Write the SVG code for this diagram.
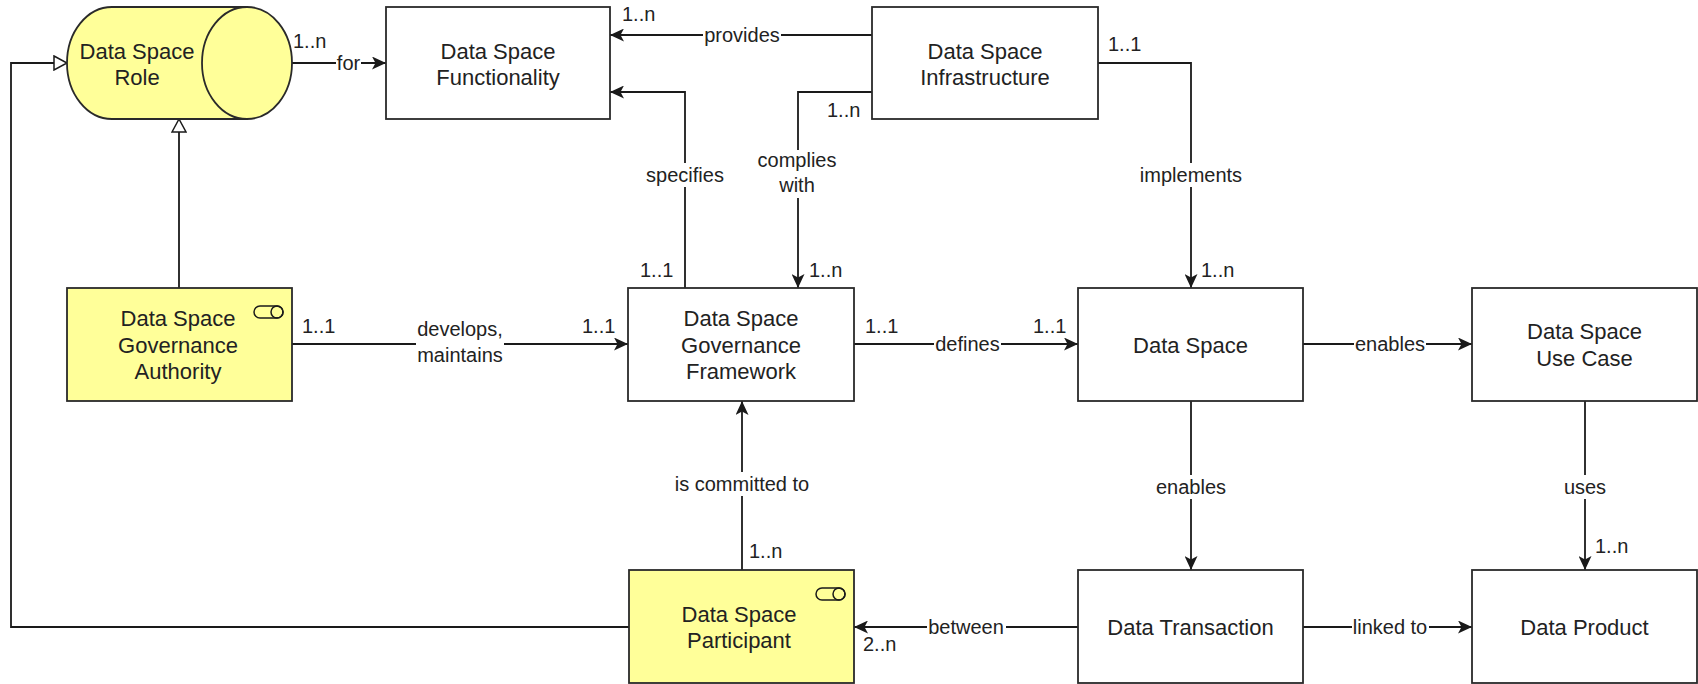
<svg xmlns="http://www.w3.org/2000/svg" width="1698" height="684" viewBox="0 0 1698 684">
<style>
.box{fill:#ffffff;stroke:#2a2a2a;stroke-width:1.8}
.yel{fill:#ffff99;stroke:#2a2a2a;stroke-width:1.8}
.icon{fill:none;stroke:#1a1a1a;stroke-width:1.5}
.nt{font-family:"Liberation Sans",Arial,sans-serif;font-size:22px;fill:#222;text-anchor:middle}
.lt{font-family:"Liberation Sans",Arial,sans-serif;font-size:20px;fill:#222;text-anchor:middle}
.mt{font-family:"Liberation Sans",Arial,sans-serif;font-size:20px;fill:#222}
.edge{fill:none;stroke:#1a1a1a;stroke-width:1.8}
.bg{fill:#ffffff}
</style>
<defs>
<marker id="arr" markerWidth="14" markerHeight="13" refX="14" refY="6.5" orient="auto" markerUnits="userSpaceOnUse">
<path d="M0,0 L14,6.5 L0,13 L3.5,6.5 Z" fill="#1a1a1a"/>
</marker>
<marker id="tri" markerWidth="16" markerHeight="16" refX="14" refY="8" orient="auto" markerUnits="userSpaceOnUse">
<path d="M1,1 L14,8 L1,15 Z" fill="#ffffff" stroke="#1a1a1a" stroke-width="1.5"/>
</marker>
</defs>
<rect width="1698" height="684" fill="#ffffff"/>

<g id="connectors">
<path class="edge" d="M292,63 H386" marker-end="url(#arr)"/>
<path class="edge" d="M872,35 H610" marker-end="url(#arr)"/>
<path class="edge" d="M685,288 V92 H610" marker-end="url(#arr)"/>
<path class="edge" d="M872,92 H798 V288" marker-end="url(#arr)"/>
<path class="edge" d="M1098,63 H1191 V288" marker-end="url(#arr)"/>
<path class="edge" d="M292,344 H628" marker-end="url(#arr)"/>
<path class="edge" d="M854,344 H1078" marker-end="url(#arr)"/>
<path class="edge" d="M1303,344 H1472" marker-end="url(#arr)"/>
<path class="edge" d="M1191,401 V570" marker-end="url(#arr)"/>
<path class="edge" d="M1585,401 V570" marker-end="url(#arr)"/>
<path class="edge" d="M1078,627 H854" marker-end="url(#arr)"/>
<path class="edge" d="M1303,627 H1472" marker-end="url(#arr)"/>
<path class="edge" d="M742,570 V401" marker-end="url(#arr)"/>
<path class="edge" d="M629,627 H11 V63 H67" marker-end="url(#tri)"/>
<path class="edge" d="M179,288 V119" marker-end="url(#tri)"/>

<rect class="bg" x="336" y="55" width="25" height="16"/>
<text class="lt" x="348.5" y="70">for</text>
<rect class="bg" x="703" y="27" width="78" height="16"/>
<text class="lt" x="742" y="42">provides</text>
<rect class="bg" x="644" y="163" width="82" height="24"/>
<text class="lt" x="685" y="182">specifies</text>
<rect class="bg" x="756" y="150" width="84" height="48"/>
<text class="lt" x="797" y="167">complies</text>
<text class="lt" x="797" y="192">with</text>
<rect class="bg" x="1139" y="163" width="104" height="24"/>
<text class="lt" x="1191" y="182">implements</text>
<rect class="bg" x="416" y="320" width="88" height="50"/>
<text class="lt" x="460" y="336">develops,</text>
<text class="lt" x="460" y="362">maintains</text>
<rect class="bg" x="934" y="336" width="67" height="16"/>
<text class="lt" x="967.5" y="351">defines</text>
<rect class="bg" x="1354" y="336" width="72" height="16"/>
<text class="lt" x="1390" y="351">enables</text>
<rect class="bg" x="1155" y="475" width="72" height="24"/>
<text class="lt" x="1191" y="494">enables</text>
<rect class="bg" x="1563" y="475" width="44" height="24"/>
<text class="lt" x="1585" y="494">uses</text>
<rect class="bg" x="927" y="619" width="79" height="16"/>
<text class="lt" x="966" y="634">between</text>
<rect class="bg" x="1352" y="619" width="77" height="16"/>
<text class="lt" x="1390" y="634">linked to</text>
<rect class="bg" x="674" y="472" width="138" height="24"/>
<text class="lt" x="742" y="491">is committed to</text>

<text class="mt" x="293" y="48">1..n</text>
<text class="mt" x="622" y="21">1..n</text>
<text class="mt" x="827" y="117">1..n</text>
<text class="mt" x="1108" y="51">1..1</text>
<text class="mt" x="640" y="277">1..1</text>
<text class="mt" x="809" y="277">1..n</text>
<text class="mt" x="302" y="333">1..1</text>
<text class="mt" x="582" y="333">1..1</text>
<text class="mt" x="865" y="333">1..1</text>
<text class="mt" x="1033" y="333">1..1</text>
<text class="mt" x="1201" y="277">1..n</text>
<text class="mt" x="749" y="558">1..n</text>
<text class="mt" x="863" y="651">2..n</text>
<text class="mt" x="1595" y="553">1..n</text>
</g>

<g id="role">
<path class="yel" d="M112,7 H247 A45,56 0 0 1 247,119 H112 A45,56 0 0 1 112,7 Z"/>
<path class="icon" style="stroke:#2a2a2a;stroke-width:1.8" d="M247,7 A45,56 0 0 0 247,119"/>
<text class="nt" x="137" y="58.5">Data Space</text>
<text class="nt" x="137" y="85">Role</text>
</g>

<g id="functionality">
<rect class="box" x="386" y="7" width="224" height="112"/>
<text class="nt" x="498" y="58.5">Data Space</text>
<text class="nt" x="498" y="85">Functionality</text>
</g>

<g id="infrastructure">
<rect class="box" x="872" y="7" width="226" height="112"/>
<text class="nt" x="985" y="58.5">Data Space</text>
<text class="nt" x="985" y="85">Infrastructure</text>
</g>

<g id="authority">
<rect class="yel" x="67" y="288" width="225" height="113"/>
<rect class="icon" x="254" y="306" width="29" height="12" rx="6"/>
<circle class="icon" cx="277" cy="312" r="6"/>
<text class="nt" x="178" y="326">Data Space</text>
<text class="nt" x="178" y="352.5">Governance</text>
<text class="nt" x="178" y="379">Authority</text>
</g>

<g id="framework">
<rect class="box" x="628" y="288" width="226" height="113"/>
<text class="nt" x="741" y="326">Data Space</text>
<text class="nt" x="741" y="352.5">Governance</text>
<text class="nt" x="741" y="379">Framework</text>
</g>

<g id="dataspace">
<rect class="box" x="1078" y="288" width="225" height="113"/>
<text class="nt" x="1190.5" y="352.5">Data Space</text>
</g>

<g id="usecase">
<rect class="box" x="1472" y="288" width="225" height="113"/>
<text class="nt" x="1584.5" y="339">Data Space</text>
<text class="nt" x="1584.5" y="365.5">Use Case</text>
</g>

<g id="participant">
<rect class="yel" x="629" y="570" width="225" height="113"/>
<rect class="icon" x="816" y="588" width="29" height="12" rx="6"/>
<circle class="icon" cx="839" cy="594" r="6"/>
<text class="nt" x="739" y="621.5">Data Space</text>
<text class="nt" x="739" y="648">Participant</text>
</g>

<g id="transaction">
<rect class="box" x="1078" y="570" width="225" height="113"/>
<text class="nt" x="1190.5" y="634.5">Data Transaction</text>
</g>

<g id="product">
<rect class="box" x="1472" y="570" width="225" height="113"/>
<text class="nt" x="1584.5" y="634.5">Data Product</text>
</g>
</svg>
